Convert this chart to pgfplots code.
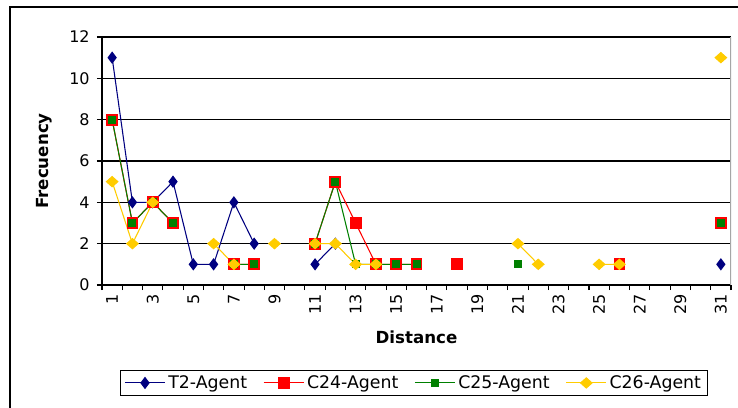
\documentclass[border=0pt]{standalone}
\usepackage{fontspec}
\setmainfont{DejaVu Sans}
\usepackage{pgfplots}
\pgfplotsset{compat=1.18}
\definecolor{navy}{HTML}{000080}
\definecolor{xred}{HTML}{FF0000}
\definecolor{xgreen}{HTML}{008000}
\definecolor{xgold}{HTML}{FFCC00}
\begin{document}
\begin{tikzpicture}
\useasboundingbox (0,0) rectangle (553.5pt,305.25pt);
\fill[white] (0,0) rectangle (553.5pt,305.25pt);
\draw[black, line width=1pt] (7.5pt,-10pt) -- (7.5pt,300pt) -- (570pt,300pt);
\begin{axis}[
  at={(76.5pt,91.5pt)}, anchor=south west,
  scale only axis, width=471.75pt, height=186pt,
  xmin=0.5, xmax=31.5, ymin=0, ymax=12,
  axis lines=left, axis line style={-, black, line width=0.8pt},
  xtick={0.5,1.5,...,31.5}, xticklabels={},
  extra x ticks={1,3,...,31},
  extra x tick labels={1,3,5,7,9,11,13,15,17,19,21,23,25,27,29,31},
  extra x tick style={major tick length=0pt, grid=none,
    tick label style={rotate=90, anchor=east, xshift=-3.5pt, font=\fontsize{12}{13}\selectfont}},
  ytick={0,2,...,12},
  tick align=outside, major tick length=3.75pt,
  tick style={black, line width=0.8pt},
  ymajorgrids, grid style={black, line width=0.8pt},
  /pgf/number format/assume math mode=true,
  yticklabel style={font=\fontsize{12}{13}\selectfont, xshift=-2pt},
  xlabel={\bfseries Distance}, ylabel={\bfseries Frecuency},
  xlabel style={font=\fontsize{12.5}{13}\selectfont, yshift=-1.5pt},
  ylabel style={font=\fontsize{12.5}{13}\selectfont, yshift=6pt},
  unbounded coords=jump,
  legend columns=4,
  legend style={at={(0.496,-0.395)}, anchor=center, draw=black, line width=0.8pt,
    font=\fontsize{13}{15}\selectfont, inner xsep=3pt, inner ysep=2pt,
    /tikz/every even column/.append style={column sep=10pt}},
  legend image code/.code={
    \draw[#1, mark repeat=2, mark phase=2] plot coordinates {(0cm,0cm) (0.53cm,0cm) (1.06cm,0cm)};},
]
\draw[gray!70, line width=0.8pt] (rel axis cs:1,0) -- (rel axis cs:1,1);
\addplot[navy, line width=0.8pt, mark=diamond*, mark size=4pt, mark options={solid, fill=navy}]
  coordinates {(1,11)(2,4)(3,4)(4,5)(5,1)(6,1)(7,4)(8,2)(9,nan)(11,1)(12,2)(13,nan)(31,1)};
\addlegendentry{T2-Agent}
\addplot[xred, line width=0.8pt, mark=square*, mark size=4pt, mark options={solid, fill=xred}]
  coordinates {(1,8)(2,3)(3,4)(4,3)(5,nan)(7,1)(8,1)(9,nan)(11,2)(12,5)(13,3)(14,1)(15,1)(16,1)(17,nan)(18,1)(19,nan)(26,1)(27,nan)(31,3)};
\addlegendentry{C24-Agent}
\addplot[xgreen, line width=0.8pt, mark=square*, mark size=2.6pt, mark options={solid, fill=xgreen}]
  coordinates {(1,8)(2,3)(3,4)(4,3)(5,nan)(7,1)(8,1)(9,nan)(11,2)(12,5)(13,1)(14,1)(15,1)(16,1)(17,nan)(21,1)(22,nan)(31,3)};
\addlegendentry{C25-Agent}
\addplot[xgold, line width=0.8pt, mark=diamond*, mark size=3.8pt, mark options={solid, fill=xgold, xscale=1.5}]
  coordinates {(1,5)(2,2)(3,4)(4,nan)(6,2)(7,1)(8,nan)(9,2)(10,nan)(11,2)(12,2)(13,1)(14,1)(15,nan)(21,2)(22,1)(23,nan)(25,1)(26,1)(27,nan)(31,11)};
\addlegendentry{C26-Agent}
\end{axis}
\end{tikzpicture}
\end{document}
